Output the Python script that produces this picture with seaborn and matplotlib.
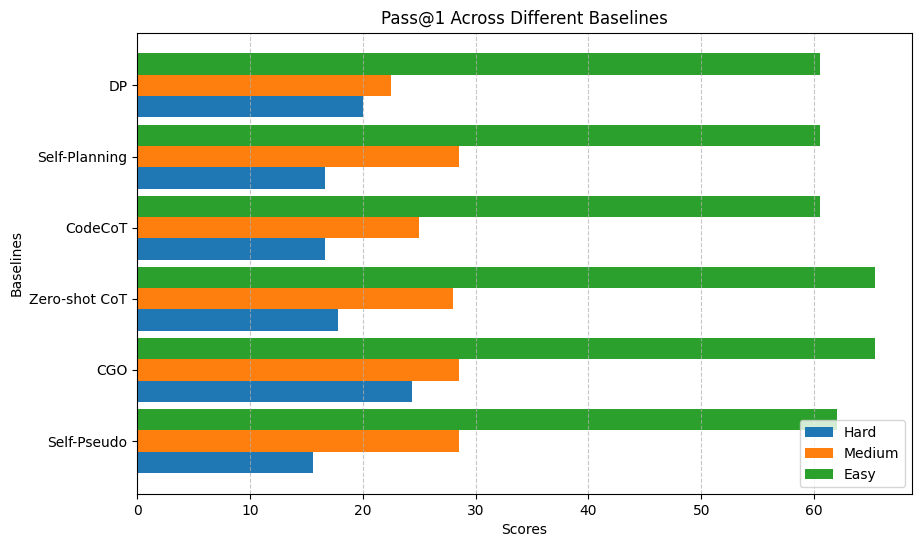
import pandas as pd
import seaborn as sns
from matplotlib import pyplot as plt

baselines = ['DP', 'Self-Planning', 'CodeCoT', 'Zero-shot CoT', 'CGO', 'Self-Pseudo']
hard = [20.0, 16.7, 16.7, 17.8, 24.4, 15.6]
medium = [22.5, 28.5, 25.0, 28.0, 28.5, 28.5]
easy = [60.5, 60.5, 60.5, 65.4, 65.4, 62.0]

df = pd.DataFrame({'Baseline': baselines, 'Hard': hard, 'Medium': medium, 'Easy': easy})
df = df.melt(id_vars='Baseline', var_name='Difficulty', value_name='Score')

colors = {'Hard': '#1f77b4', 'Medium': '#ff7f0e', 'Easy': '#2ca02c'}

fig = plt.figure(figsize=(9.22, 5.47), dpi=100)
ax = fig.add_axes([137 / 922, 1 - 494 / 547, (912 - 137) / 922, (494 - 32.5) / 547])
sns.barplot(data=df, y='Baseline', x='Score', hue='Difficulty', order=baselines,
            hue_order=['Easy', 'Medium', 'Hard'], palette=colors, width=0.9,
            orient='h', saturation=1, ax=ax)

# matplotlib-like margins on the category axis
ax.set_ylim(5.745, -0.745)
ax.grid(axis='x', linestyle='--', alpha=0.7)
ax.set_title('Pass@1 Across Different Baselines')
ax.set_xlabel('Scores')
ax.set_ylabel('Baselines')

handles, labels = ax.get_legend_handles_labels()
ax.legend(handles[::-1], labels[::-1], loc='lower right')

fig.savefig('out.png', dpi=100)
